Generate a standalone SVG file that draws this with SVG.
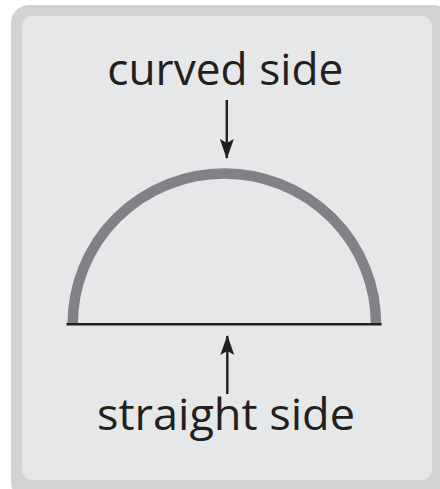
<svg xmlns="http://www.w3.org/2000/svg" width="440" height="489" viewBox="0 0 440 489">
  <defs>
    <marker id="ah" viewBox="0 0 20 14" refX="19" refY="7" markerWidth="20" markerHeight="14" markerUnits="userSpaceOnUse" orient="auto">
      <path d="M0,0 L4,7 L0,14 L20,7 Z" fill="#231f20"/>
    </marker>
    <style>
      .lbl { font-family: "Open Sans", "Noto Sans", sans-serif; font-size: 44px; fill: #231f20; text-anchor: middle; }
      .conn { stroke: #231f20; stroke-width: 2.4; fill: none; }
    </style>
  </defs>
  <g id="background">
    <rect x="11" y="5" width="440" height="495" rx="18" fill="#d1d2d4"/>
    <rect x="22" y="16" width="410" height="464" rx="10" fill="#e6e7e8"/>
  </g>
  <g id="semicircle">
    <path d="M72.7,324 A151.6,150.5 0 0 1 376,324" fill="none" stroke="#808285" stroke-width="10.5"/>
    <line x1="66.5" y1="324.3" x2="381.5" y2="324.3" stroke="#231f20" stroke-width="2.6"/>
  </g>
  <g id="label-curved">
    <text class="lbl" x="225.3" y="85" textLength="236" lengthAdjust="spacingAndGlyphs">curved side</text>
  </g>
  <g id="label-straight">
    <text class="lbl" x="226" y="430" textLength="258" lengthAdjust="spacingAndGlyphs">straight side</text>
  </g>
  <g id="connectors">
    <path class="conn" d="M226.8,100 L226.8,158" marker-end="url(#ah)"/>
    <path class="conn" d="M227.3,394 L227.3,336" marker-end="url(#ah)"/>
  </g>
</svg>
